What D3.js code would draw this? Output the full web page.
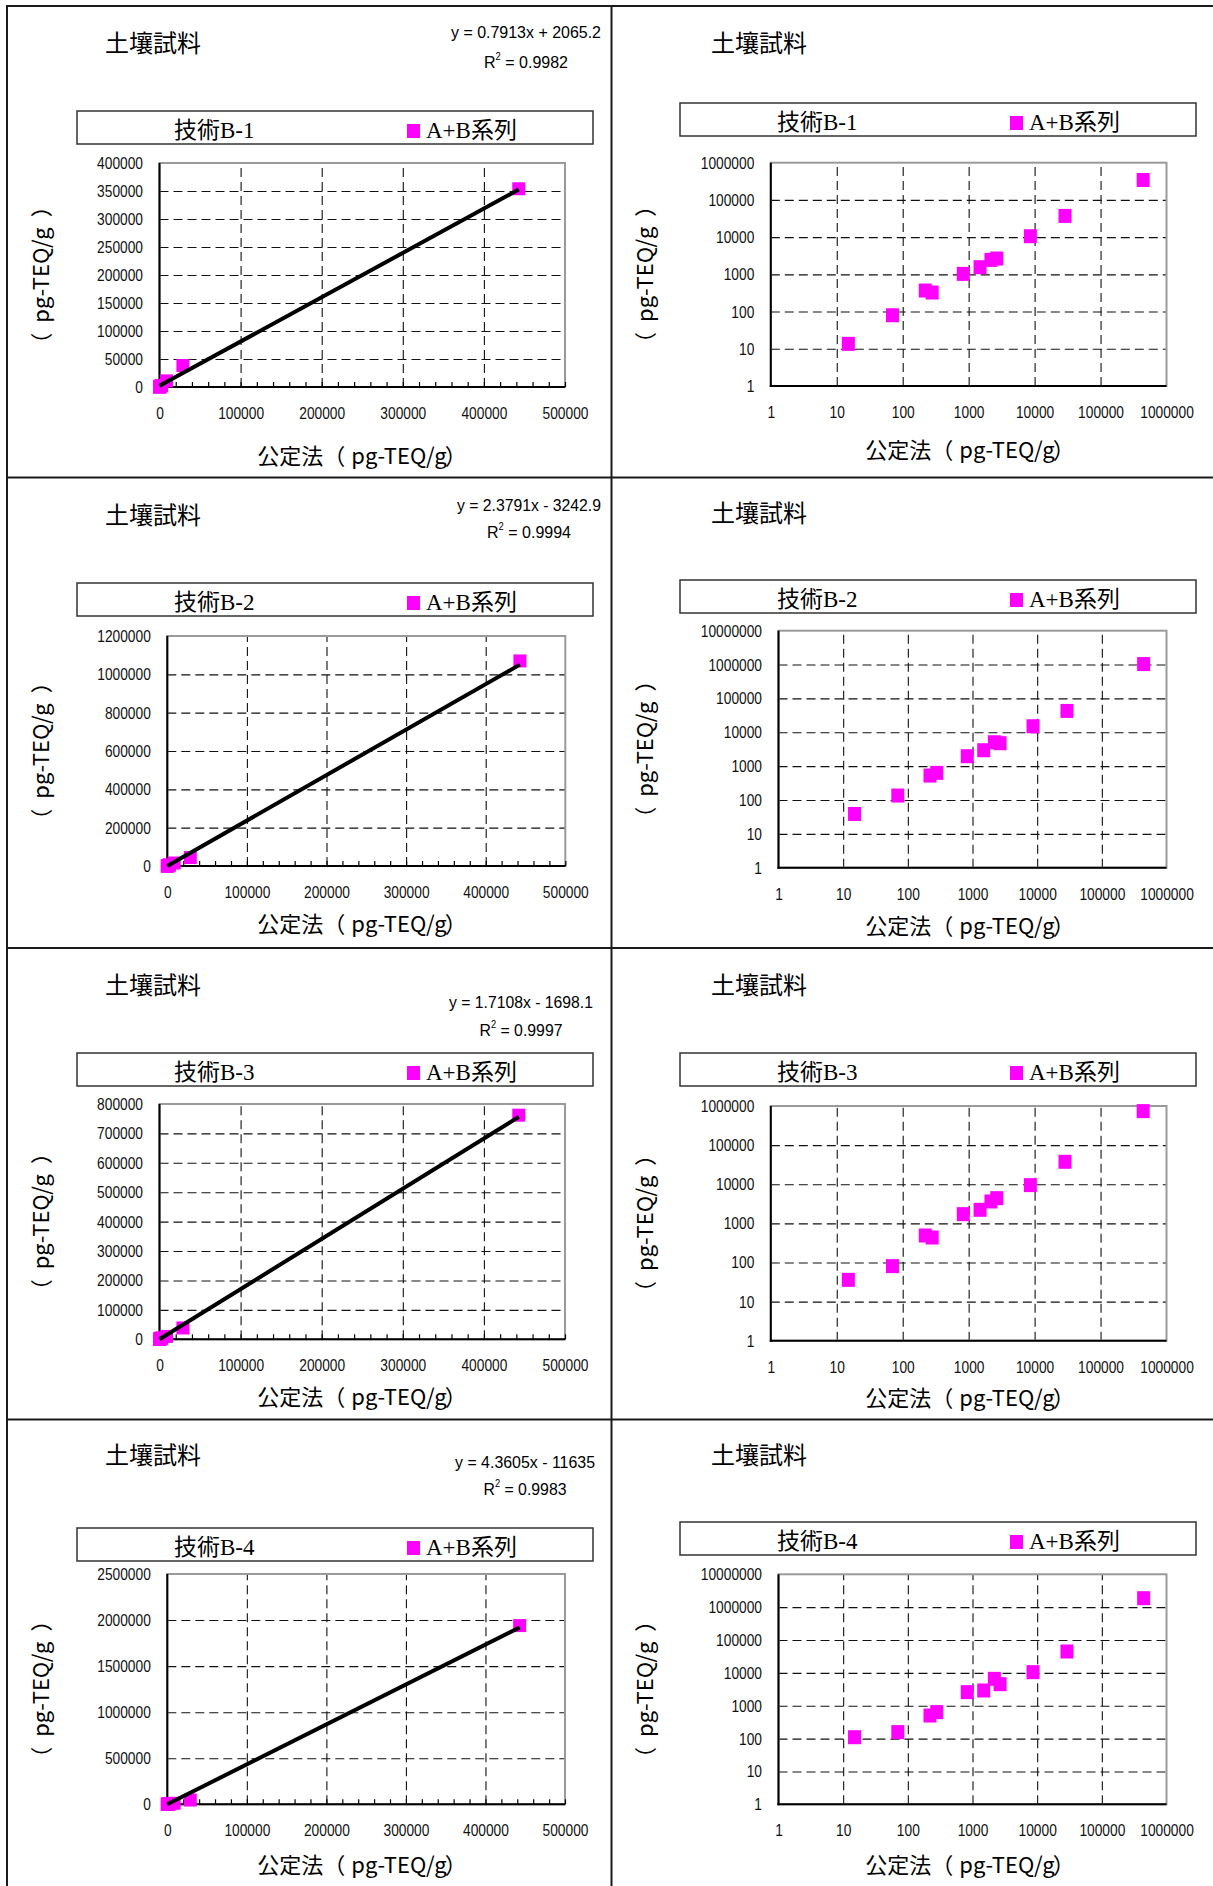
<!DOCTYPE html>
<html><head><meta charset="utf-8">
<script src="https://cdn.jsdelivr.net/npm/d3@7"></script>
<style>
body{margin:0;background:#fff;}
svg{display:block;}
</style></head><body>
<script>
// ---------------- DATA ----------------
const sampleLabel = "土壤試料";
const techNames = ["技術B-1", "技術B-2", "技術B-3", "技術B-4"];
const legendLabel = "A+B系列";
const xTitle = "公定法（pg-TEQ/g）";
const yTitle = "（pg-TEQ/g）";

// 公定法 values (x), shared by all four techniques
const koteiho = [15, 70, 220, 280, 830, 1490, 2180, 2670, 8630, 28900, 443000];
// Technique results (y)
const techB1 = [14, 82, 379, 335, 1062, 1603, 2523, 2741, 10900, 38300, 354000];
const techB2 = [40, 140, 545, 653, 2028, 3050, 5250, 4910, 15600, 44200, 1070000];
const techB3 = [37, 83, 504, 448, 1770, 2285, 3733, 4540, 9770, 38600, 762000];
const techB4 = [114, 163, 522, 660, 2680, 3010, 6820, 4690, 10880, 46300, 1940000];
const techSeries = [techB1, techB2, techB3, techB4];

// trendline (as printed on the chart)
const slopes = [0.7913, 2.3791, 1.7108, 4.3605];
const intercepts = [2065.2, -3242.9, -1698.1, -11635];
const equationTexts = ["y = 0.7913x + 2065.2", "y = 2.3791x - 3242.9", "y = 1.7108x - 1698.1", "y = 4.3605x - 11635"];
const r2Texts = ["0.9982", "0.9994", "0.9997", "0.9983"];

// axis ticks
const linearXTicks = [0, 100000, 200000, 300000, 400000, 500000];
const linearXMinorStep = 20000;
const linearYTicks = [
  [0, 50000, 100000, 150000, 200000, 250000, 300000, 350000, 400000],
  [0, 200000, 400000, 600000, 800000, 1000000, 1200000],
  [0, 100000, 200000, 300000, 400000, 500000, 600000, 700000, 800000],
  [0, 500000, 1000000, 1500000, 2000000, 2500000]
];
const logXTicks = [1, 10, 100, 1000, 10000, 100000, 1000000];
const logYTicks = [
  [1, 10, 100, 1000, 10000, 100000, 1000000],
  [1, 10, 100, 1000, 10000, 100000, 1000000, 10000000],
  [1, 10, 100, 1000, 10000, 100000, 1000000],
  [1, 10, 100, 1000, 10000, 100000, 1000000, 10000000]
];

// ---------------- LAYOUT ----------------
const W = 1213, H = 1886;
const linLayout = [
  {x0:159.5, x1:565,   y0:163,   y1:387},
  {x0:167.3, x1:565.3, y0:636,   y1:866},
  {x0:159.5, x1:565,   y0:1104,  y1:1339.3},
  {x0:167.3, x1:565,   y0:1574,  y1:1804.3}
];
const logLayout = [
  {x0:770.8, x1:1166.5, y0:162.7,  y1:386},
  {x0:778.5, x1:1166.5, y0:630.7,  y1:867.7},
  {x0:770.8, x1:1166.5, y0:1106,   y1:1340.7},
  {x0:778.5, x1:1166.5, y0:1574.3, y1:1804.3}
];
const textLayout = {
  sampleX: [105, 711],
  sampleY: [[52, 524, 994, 1464], [52, 522, 994, 1464]],
  legendX: [77, 680], legendW: 516, legendH: 33,
  legendY: [[111, 583, 1053, 1528], [103, 580, 1053, 1522]],
  eqCX: [526, 529, 521, 525],
  eqY: [38, 511, 1007.5, 1468],
  r2Y: [67.5, 538, 1036, 1495],
  eqW: [150, 144, 144, 140],
  r2W: [84, 84, 83, 83],
  xTitleCX: [362, 970],
  xTitleY: [[464, 932, 1405, 1873], [458, 934, 1406, 1873]],
  yTitleX: [49, 653]
};
const frameH = [6, 477.5, 948, 1419.5];
const frameV = [7, 611.5];

const NUM_FONT = "'Liberation Sans Narrow','Arial Narrow','Liberation Sans',Arial,sans-serif";
const CJK_FONT = "'Noto Sans CJK JP','Noto Sans CJK SC',sans-serif";
const TITLE_FONT = "'Liberation Sans Narrow','Arial Narrow','Noto Sans CJK JP',sans-serif";
const LEG_FONT = "'Liberation Serif','Noto Sans CJK JP',serif";
const DIGIT_W = 7.65;
const MAGENTA = "#FF00FF";
const GRID = "#111";

const svg = d3.select("body").append("svg").attr("width", W).attr("height", H);
svg.append("rect").attr("width", W).attr("height", H).attr("fill", "#fff");

// outer frame
frameH.forEach(y => svg.append("line").attr("x1", frameV[0]-1).attr("x2", W).attr("y1", y).attr("y2", y)
  .attr("stroke", "#1a1a1a").attr("stroke-width", 2));
frameV.forEach(x => svg.append("line").attr("x1", x).attr("x2", x).attr("y1", frameH[0]).attr("y2", H)
  .attr("stroke", "#1a1a1a").attr("stroke-width", 2));

// axis title with the full-width brackets set slightly apart from the unit text
function titleText(g, str, tx, ty, rot, gapBefore, gapAfter) {
  const m = str.match(/^(.*（)(.*)(）)$/);
  const t = g.append("text").attr("text-anchor", "middle").attr("font-family", TITLE_FONT)
    .attr("font-size", 22).attr("fill", "#000")
    .attr("transform", `translate(${tx},${ty})` + (rot ? ` rotate(${rot})` : ""));
  t.append("tspan").text(m[1]);
  t.append("tspan").attr("dx", gapBefore).text(m[2]);
  t.append("tspan").attr("dx", gapAfter).text(m[3]);
  return t;
}

function styleTickText(sel) {
  sel.selectAll("text")
    .attr("font-family", NUM_FONT).attr("font-size", 17).attr("fill", "#111")
    .each(function() {
      const s = d3.select(this).text();
      d3.select(this).attr("textLength", s.length * DIGIT_W).attr("lengthAdjust", "spacingAndGlyphs");
    });
}

function commonText(col, i, L) {
  const g = svg.append("g");
  // sample label
  g.append("text").attr("x", textLayout.sampleX[col]).attr("y", textLayout.sampleY[col][i])
    .attr("font-family", CJK_FONT).attr("font-size", 24).attr("fill", "#000").text(sampleLabel);
  // legend
  const lx = textLayout.legendX[col], ly = textLayout.legendY[col][i];
  g.append("rect").attr("x", lx).attr("y", ly).attr("width", textLayout.legendW).attr("height", textLayout.legendH)
    .attr("fill", "#fff").attr("stroke", "#333").attr("stroke-width", 1.5);
  g.append("text").attr("x", lx + 97).attr("y", ly + 27).attr("font-family", LEG_FONT).attr("font-size", 23)
    .attr("fill", "#000").text(techNames[i]);
  g.append("rect").attr("x", lx + 330).attr("y", ly + 13).attr("width", 13).attr("height", 14).attr("fill", MAGENTA);
  g.append("text").attr("x", lx + 349).attr("y", ly + 27).attr("font-family", LEG_FONT).attr("font-size", 23)
    .attr("fill", "#000").text(legendLabel);
  // axis titles
  titleText(g, xTitle, textLayout.xTitleCX[col], textLayout.xTitleY[col][i], 0, 6, -2);
  titleText(g, yTitle, textLayout.yTitleX[col], (L.y0 + L.y1) / 2, -90, 10, 10);
}

function frame(g, L) {
  g.append("rect").attr("x", L.x0).attr("y", L.y0).attr("width", L.x1 - L.x0).attr("height", L.y1 - L.y0)
    .attr("fill", "none").attr("stroke", "#9a9a9a").attr("stroke-width", 2);
  g.append("line").attr("x1", L.x0).attr("x2", L.x0).attr("y1", L.y0).attr("y2", L.y1 + 1)
    .attr("stroke", "#000").attr("stroke-width", 2);
  g.append("line").attr("x1", L.x0 - 1).attr("x2", L.x1).attr("y1", L.y1).attr("y2", L.y1)
    .attr("stroke", "#000").attr("stroke-width", 2);
}

function grids(g, x, y, L, xt, yt) {
  const xIn = xt.filter((v, k) => k > 0 && k < xt.length - 1);
  const yIn = yt.filter((v, k) => k > 0 && k < yt.length - 1);
  const gx = g.append("g").attr("transform", `translate(0,${L.y1})`)
    .call(d3.axisBottom(x).tickValues(xIn).tickSize(-(L.y1 - L.y0)).tickFormat(""));
  const gy = g.append("g").attr("transform", `translate(${L.x0},0)`)
    .call(d3.axisLeft(y).tickValues(yIn).tickSize(-(L.x1 - L.x0)).tickFormat(""));
  [gx, gy].forEach(s => {
    s.select(".domain").remove();
    s.selectAll("line").attr("stroke", GRID).attr("stroke-width", 1.1).attr("stroke-dasharray", "9,5");
  });
}

function labels(g, x, y, L, xt, yt, fmt) {
  const ax = g.append("g").attr("transform", `translate(0,${L.y1})`)
    .call(d3.axisBottom(x).tickValues(xt).tickSize(0).tickPadding(20).tickFormat(fmt));
  ax.select(".domain").remove();
  styleTickText(ax);
  const ay = g.append("g").attr("transform", `translate(${L.x0},0)`)
    .call(d3.axisLeft(y).tickValues(yt).tickSize(0).tickPadding(16.5).tickFormat(fmt));
  ay.select(".domain").remove();
  styleTickText(ay);
}

const fmt = d3.format("d");
const xMin = d3.min(koteiho), xMax = d3.max(koteiho);
const data = i => koteiho.map((v, k) => ({x: v, y: techSeries[i][k]}));

// ---------------- LINEAR PANELS ----------------
for (let i = 0; i < 4; i++) {
  const L = linLayout[i];
  const yt = linearYTicks[i];
  const x = d3.scaleLinear().domain([0, d3.max(linearXTicks)]).range([L.x0, L.x1]);
  const y = d3.scaleLinear().domain([0, d3.max(yt)]).range([L.y1, L.y0]);
  commonText(0, i, L);
  const g = svg.append("g");
  grids(g, x, y, L, linearXTicks, yt);
  frame(g, L);
  // minor ticks (inside)
  const mt = g.append("g").attr("transform", `translate(0,${L.y1})`)
    .call(d3.axisBottom(x).tickValues(d3.range(0, d3.max(linearXTicks) + 1, linearXMinorStep))
      .tickSizeInner(-5).tickSizeOuter(0).tickFormat(""));
  mt.select(".domain").remove();
  mt.selectAll("line").attr("stroke", "#000").attr("stroke-width", 1.2);
  labels(g, x, y, L, linearXTicks, yt, fmt);
  // points
  g.append("g").selectAll("rect").data(data(i)).join("rect")
    .attr("x", d => x(d.x) - 6.5).attr("y", d => y(d.y) - 6.5)
    .attr("width", 13).attr("height", 13).attr("fill", MAGENTA);
  // trendline
  const tl = [xMin, xMax].map(v => ({x: v, y: slopes[i] * v + intercepts[i]}));
  g.append("path").datum(tl)
    .attr("d", d3.line().x(d => x(d.x)).y(d => y(Math.max(0, d.y))))
    .attr("stroke", "#000").attr("stroke-width", 4).attr("fill", "none");
  // equation
  g.append("text").attr("x", textLayout.eqCX[i]).attr("y", textLayout.eqY[i]).attr("text-anchor", "middle")
    .attr("font-family", NUM_FONT).attr("font-size", 17).attr("fill", "#000")
    .attr("textLength", textLayout.eqW[i]).attr("lengthAdjust", "spacingAndGlyphs").text(equationTexts[i]);
  const r2 = g.append("text").attr("x", textLayout.eqCX[i]).attr("y", textLayout.r2Y[i]).attr("text-anchor", "middle")
    .attr("font-family", NUM_FONT).attr("font-size", 17).attr("fill", "#000")
    .attr("textLength", textLayout.r2W[i]).attr("lengthAdjust", "spacingAndGlyphs");
  r2.append("tspan").text("R");
  r2.append("tspan").attr("font-size", 10).attr("dy", -8).text("2");
  r2.append("tspan").attr("dy", 8).text(" = " + r2Texts[i]);
}

// ---------------- LOG PANELS ----------------
for (let i = 0; i < 4; i++) {
  const L = logLayout[i];
  const yt = logYTicks[i];
  const x = d3.scaleLog().domain([1, d3.max(logXTicks)]).range([L.x0, L.x1]);
  const y = d3.scaleLog().domain([1, d3.max(yt)]).range([L.y1, L.y0]);
  commonText(1, i, L);
  const g = svg.append("g");
  grids(g, x, y, L, logXTicks, yt);
  frame(g, L);
  labels(g, x, y, L, logXTicks, yt, fmt);
  g.append("g").selectAll("rect").data(data(i)).join("rect")
    .attr("x", d => x(d.x) - 6.5).attr("y", d => y(d.y) - 6.5)
    .attr("width", 13).attr("height", 14).attr("fill", MAGENTA);
}
</script>
</body></html>
